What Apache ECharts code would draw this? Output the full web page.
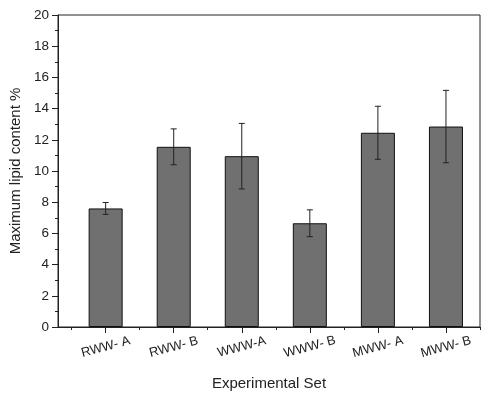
<!DOCTYPE html>
<html>
<head>
<meta charset="utf-8">
<script src="https://cdn.jsdelivr.net/npm/echarts@6/dist/echarts.min.js"></script>
<style>
  html, body { margin: 0; padding: 0; background: #fff; }
  #chart { width: 498px; height: 399px; }
</style>
</head>
<body>
<div id="chart"></div>
<script>
// data
var categories = ["RWW- A", "RWW- B", "WWW-A", "WWW- B", "MWW- A", "MWW- B"];
var lipidValues = [7.6, 11.55, 10.95, 6.65, 12.45, 12.85];
var lipidErrors = [0.38, 1.15, 2.1, 0.86, 1.7, 2.32];
var positions = [1, 2, 3, 4, 5, 6];
var minorPositions = [0.5, 1.5, 2.5, 3.5, 4.5, 5.5, 6.5];

var dom = document.getElementById("chart");
var myChart = echarts.init(dom, null, { renderer: "canvas" });

var font = "Liberation Sans";

var barData = positions.map(function (p, i) { return [p, lipidValues[i]]; });
var errData = positions.map(function (p, i) {
  return [p, lipidValues[i] - lipidErrors[i], lipidValues[i] + lipidErrors[i]];
});

var option = {
  animation: false,
  grid: {
    left: 58, top: 15, right: 18, bottom: 72,
    show: true, borderColor: "#222", borderWidth: 1, backgroundColor: "transparent"
  },
  xAxis: [
    {
      type: "value",
      min: 0.3,
      max: 6.5,
      splitLine: { show: false },
      axisLine: { show: true, lineStyle: { color: "#222", width: 1 } },
      axisTick: { show: true, inside: false, length: 6, customValues: positions, lineStyle: { color: "#222" } },
      axisLabel: {
        customValues: positions,
        rotate: 15,
        align: "center",
        margin: 20,
        fontFamily: font,
        fontSize: 13,
        color: "#222",
        formatter: function (v) { return categories[Math.round(v) - 1]; }
      },
      name: "Experimental Set",
      nameLocation: "middle",
      nameGap: 49,
      nameTextStyle: { fontFamily: font, fontSize: 15, color: "#222" }
    },
    {
      type: "value",
      position: "bottom",
      min: 0.3,
      max: 6.5,
      splitLine: { show: false },
      axisLine: { show: false },
      axisLabel: { show: false },
      axisTick: { show: true, inside: false, length: 3, customValues: minorPositions, lineStyle: { color: "#222" } }
    }
  ],
  yAxis: {
    type: "value",
    min: 0,
    max: 20,
    interval: 2,
    splitLine: { show: false },
    axisLine: { show: true, lineStyle: { color: "#222", width: 1 } },
    axisTick: { show: true, inside: false, length: 6, lineStyle: { color: "#222" } },
    minorTick: { show: true, splitNumber: 2, length: 3, lineStyle: { color: "#222" } },
    axisLabel: { fontFamily: font, fontSize: 13.5, color: "#222", margin: 9 },
    name: "Maximum lipid content %",
    nameLocation: "middle",
    nameGap: 34,
    nameTextStyle: { fontFamily: font, fontSize: 15, color: "#222" }
  },
  series: [
    {
      type: "bar",
      data: barData,
      barWidth: 34,
      itemStyle: { color: "#707070", borderColor: "#111", borderWidth: 1 }
    },
    {
      type: "custom",
      data: errData,
      z: 10,
      renderItem: function (params, api) {
        var x = api.value(0);
        var lo = api.coord([x, api.value(1)]);
        var hi = api.coord([x, api.value(2)]);
        var cap = 3;
        var style = { stroke: "#222", lineWidth: 1 };
        return {
          type: "group",
          children: [
            { type: "line", shape: { x1: lo[0], y1: lo[1], x2: hi[0], y2: hi[1] }, style: style },
            { type: "line", shape: { x1: lo[0] - cap, y1: lo[1], x2: lo[0] + cap, y2: lo[1] }, style: style },
            { type: "line", shape: { x1: hi[0] - cap, y1: hi[1], x2: hi[0] + cap, y2: hi[1] }, style: style }
          ]
        };
      }
    }
  ]
};

myChart.setOption(option);
window.addEventListener("resize", myChart.resize);
</script>
</body>
</html>
